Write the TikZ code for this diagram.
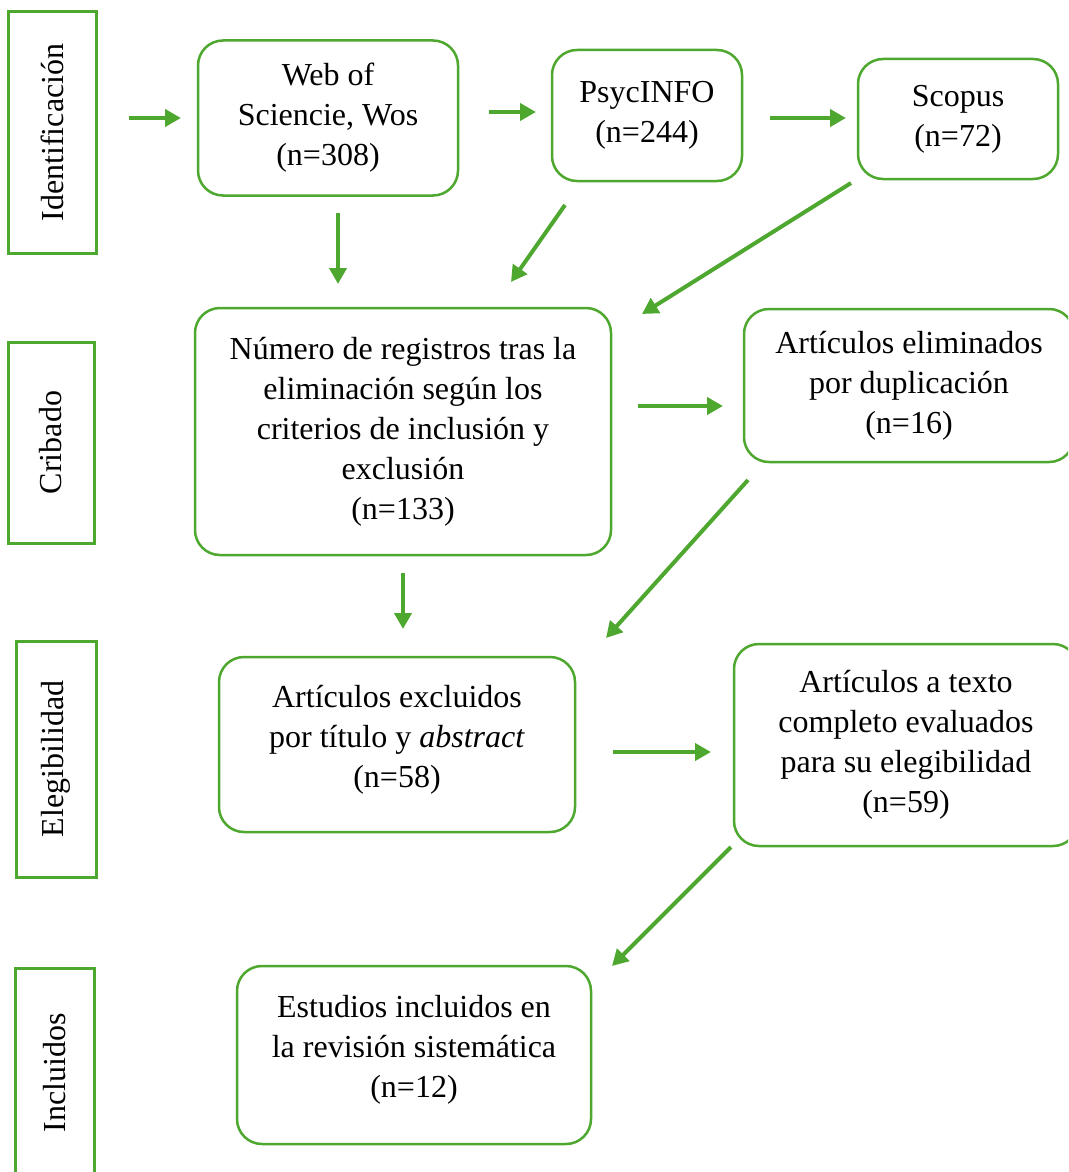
\documentclass[tikz,border=0pt]{standalone}
\usepackage{fontspec}
\setmainfont{Liberation Serif}
\usetikzlibrary{arrows.meta}

\definecolor{prisma}{RGB}{78,167,46}

\tikzset{
  stage/.style={draw=prisma, line width=3pt, rotate=90, inner sep=0pt,
    font=\fontsize{32}{40}\selectfont},
  box/.style={draw=prisma, line width=2.5pt, rounded corners=25pt, align=center,
    inner sep=0pt, font=\fontsize{32}{40}\selectfont},
  arr/.style={draw=prisma, line width=4pt, -{Triangle[length=16pt,width=17pt]}}
}

\begin{document}
\begin{tikzpicture}[x=1pt, y=-1pt]
  \useasboundingbox (0,0) rectangle (1068,1172);
  \clip (0,0) rectangle (1068,1172);

  % fases
  \node[stage, minimum width=241pt, minimum height=88pt] (ident) at (52,132.5) {Identificación};
  \node[stage, minimum width=201pt, minimum height=86pt] (crib) at (51,442.5) {Cribado};
  \node[stage, minimum width=236pt, minimum height=80pt] (eleg) at (56,759) {Elegibilidad};
  \node[stage, minimum width=210pt, minimum height=79pt] (incl) at (54.5,1073) {Incluidos};

  % bases de datos
  \node[box, minimum width=260pt, minimum height=155pt] (wos) at (328,118) {Web of\\Sciencie, Wos\\(n=308)};
  \node[box, minimum width=190pt, minimum height=131pt] (psyc) at (647,115.5) {PsycINFO\\(n=244)};
  \node[box, minimum width=200pt, minimum height=120pt] (scop) at (958,119) {Scopus\\(n=72)};

  \node[box, minimum width=416pt, minimum height=247pt] (num) at (403,431.5)
    {Número de registros tras la\\eliminación según los\\criterios de inclusión y\\exclusión\\(n=133)};
  \node[box, minimum width=330pt, minimum height=153pt] (dup) at (909,385.5)
    {Artículos eliminados\\por duplicación\\(n=16)};

  \node[box, minimum width=356pt, minimum height=175pt] (excl) at (397,744.5)
    {Artículos excluidos\\por título y \textit{abstract}\\(n=58)\\[-23pt]};
  \node[box, minimum width=344pt, minimum height=202pt] (texto) at (906,745)
    {Artículos a texto\\completo evaluados\\para su elegibilidad\\(n=59)};

  \node[box, minimum width=354pt, minimum height=178pt] (incluidos) at (414,1055)
    {Estudios incluidos en\\la revisión sistemática\\(n=12)\\[-22pt]};

  % flechas
  \coordinate (a1) at (129,118);  \coordinate (b1) at (181,118);
  \coordinate (a2) at (489,112);  \coordinate (b2) at (536,112);
  \coordinate (a3) at (770,118);  \coordinate (b3) at (846,118);
  \coordinate (a4) at (338,213);  \coordinate (b4) at (338,284);
  \coordinate (a5) at (565,205);  \coordinate (b5) at (511,282);
  \coordinate (a6) at (851,183);  \coordinate (b6) at (642,314);
  \coordinate (a7) at (638,406);  \coordinate (b7) at (723,406);
  \coordinate (a8) at (748,480);  \coordinate (b8) at (606,638);
  \coordinate (a9) at (403,573);  \coordinate (b9) at (403,629);
  \coordinate (a10) at (613,752); \coordinate (b10) at (711,752);
  \coordinate (a11) at (731,847); \coordinate (b11) at (612,966);

  \draw[arr] (a1) -- (b1);
  \draw[arr] (a2) -- (b2);
  \draw[arr] (a3) -- (b3);
  \draw[arr] (a4) -- (b4);
  \draw[arr] (a5) -- (b5);
  \draw[arr] (a6) -- (b6);
  \draw[arr] (a7) -- (b7);
  \draw[arr] (a8) -- (b8);
  \draw[arr] (a9) -- (b9);
  \draw[arr] (a10) -- (b10);
  \draw[arr] (a11) -- (b11);
\end{tikzpicture}
\end{document}
